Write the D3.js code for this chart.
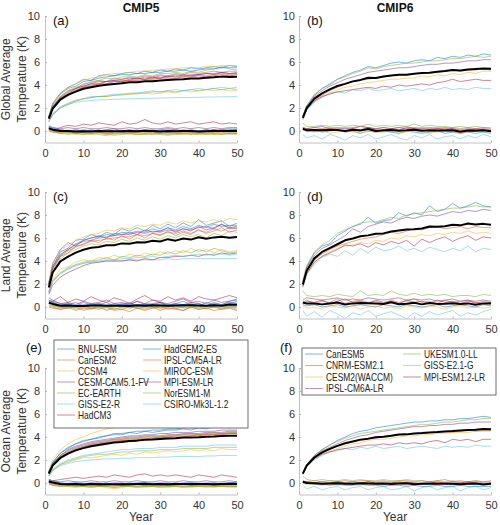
<!DOCTYPE html>
<html><head><meta charset="utf-8">
<script src="https://cdn.jsdelivr.net/npm/d3@7"></script>
<style>body{margin:0;background:#fff} svg{display:block} text{font-family:"Liberation Sans",Arial,Helvetica,sans-serif}</style>
</head><body><svg id="chart" width="500" height="525"></svg>
<script>
// ---------------- data ----------------
const years = [1,2,4,6,8,10,12,14,16,18,20,22,24,26,28,30,32,34,36,38,40,42,44,46,48,50];
const xTicks = [0,10,20,30,40,50];
const yTicks = [0,2,4,6,8,10];
const columnTitles = ["CMIP5","CMIP6"];
const rowLabels = [["Global Average","Temperature (K)"],["Land Average","Temperature (K)"],["Ocean Average","Temperature (K)"]];
const panelLetters = ["(a)","(b)","(c)","(d)","(e)","(f)"];
const xLabel = "Year";
const cmip5Models = ["BNU-ESM","CanESM2","CCSM4","CESM-CAM5.1-FV","EC-EARTH","GISS-E2-R","HadCM3","HadGEM2-ES","IPSL-CM5A-LR","MIROC-ESM","MPI-ESM-LR","NorESM1-M","CSIRO-Mk3L-1.2"];
const cmip6Models = ["CanESM5","CNRM-ESM2.1","CESM2(WACCM)","IPSL-CM6A-LR","UKESM1.0-LL","GISS-E2.1-G","MPI-ESM1.2-LR"];
const palette = ["#0072BD","#D95319","#EDB120","#7E2F8E","#77AC30","#4DBEEE","#A2142F"];

const globalCmip5Warm = [
[1.2,2.4,3.3,3.8,4.1,4.5,4.4,4.8,4.9,4.8,5.0,5.1,5.0,5.2,5.1,5.3,5.2,5.4,5.3,5.5,5.4,5.5,5.6,5.5,5.7,5.6],
[1.2,2.2,3.0,3.5,3.7,4.1,4.2,4.4,4.3,4.6,4.5,4.7,4.6,4.8,4.7,4.9,4.8,5.0,4.9,5.1,5.0,5.1,5.2,5.1,5.2,5.2],
[0.8,1.5,2.1,2.4,2.6,2.8,2.9,3.0,3.0,3.1,3.1,3.2,3.2,3.3,3.2,3.3,3.4,3.3,3.5,3.4,3.5,3.6,3.5,3.6,3.5,3.5],
[1.2,2.1,2.9,3.2,3.7,3.9,4.1,4.1,4.3,4.4,4.3,4.5,4.6,4.5,4.7,4.6,4.8,4.7,4.9,4.8,4.9,5.0,4.9,5.1,5.0,5.0],
[1.1,2.0,3.0,3.5,3.8,4.0,4.3,4.4,4.6,4.5,4.7,4.8,4.7,4.9,4.8,5.0,5.0,5.1,5.0,5.2,5.1,5.3,5.4,5.6,5.4,5.3],
[0.8,1.4,2.0,2.3,2.5,2.6,2.65,2.7,2.72,2.75,2.78,2.8,2.82,2.83,2.85,2.87,2.88,2.9,2.9,2.92,2.93,2.95,2.96,2.97,2.98,3.0],
[1.1,2.0,2.8,3.2,3.5,3.8,3.9,4.1,4.1,4.3,4.3,4.4,4.4,4.5,4.5,4.6,4.6,4.6,4.7,4.7,4.8,4.7,4.8,4.9,4.8,4.9],
[1.3,2.3,3.2,3.7,3.9,4.3,4.4,4.6,4.7,4.8,4.9,4.9,5.0,5.0,5.1,5.1,5.2,5.2,5.3,5.2,5.3,5.4,5.4,5.5,5.5,5.5],
[1.1,2.0,2.8,3.3,3.6,3.8,4.0,4.1,4.3,4.3,4.4,4.4,4.6,4.5,4.6,4.6,4.7,4.8,4.7,4.8,4.9,4.8,4.9,5.0,4.9,5.0],
[1.3,2.3,3.3,3.8,4.1,4.4,4.6,4.7,4.9,5.0,5.0,5.1,5.2,5.2,5.3,5.3,5.4,5.4,5.5,5.5,5.5,5.6,5.6,5.7,5.7,5.7],
[1.2,2.1,2.9,3.4,3.7,3.9,4.1,4.3,4.3,4.4,4.5,4.6,4.5,4.7,4.6,4.8,4.7,4.9,4.8,4.9,4.9,5.0,5.0,5.1,5.0,5.1],
[0.8,1.4,2.0,2.3,2.6,2.8,2.9,3.0,3.0,3.1,3.2,3.2,3.3,3.3,3.4,3.4,3.5,3.4,3.5,3.6,3.5,3.6,3.7,3.6,3.7,3.6],
[0.9,1.5,2.1,2.4,2.7,2.8,3.0,3.0,3.1,3.2,3.2,3.3,3.3,3.4,3.5,3.4,3.5,3.6,3.5,3.6,3.7,3.6,3.7,3.8,3.7,3.8]];
const globalCmip5Ctrl = [
[0.4,0.3,0.1,0.0,-0.1,0.1,0.0,-0.1,0.1,0.0,0.0,0.1,-0.1,0.0,0.1,0.0,-0.1,0.0,0.1,0.0,-0.1,0.0,0.1,0.0,0.1,0.2],
[0.0,-0.1,-0.2,-0.1,-0.2,-0.1,-0.2,-0.1,-0.3,-0.2,-0.1,-0.2,-0.1,-0.2,-0.3,-0.2,-0.1,-0.2,-0.2,-0.1,-0.2,-0.3,-0.2,-0.1,-0.2,-0.2],
[0.2,0.1,-0.1,-0.2,-0.1,-0.2,-0.3,-0.2,-0.2,-0.1,-0.2,-0.3,-0.2,-0.2,-0.1,-0.2,-0.3,-0.2,-0.1,-0.2,-0.2,-0.3,-0.1,-0.2,-0.2,-0.3],
[0.3,0.2,0.1,0.0,0.1,0.0,0.1,0.0,0.1,0.2,0.0,0.1,0.0,0.1,0.0,0.1,0.2,0.1,0.0,0.1,0.0,0.1,0.0,0.1,0.0,0.1],
[0.1,0.0,-0.2,-0.3,-0.2,-0.3,-0.2,-0.3,-0.4,-0.2,-0.3,-0.2,-0.3,-0.3,-0.2,-0.3,-0.2,-0.3,-0.3,-0.2,-0.3,-0.2,-0.3,-0.2,-0.3,-0.2],
[0.2,0.1,0.0,0.1,0.0,0.1,0.0,0.0,0.1,0.0,0.1,0.0,0.0,0.1,0.0,0.0,0.1,0.0,0.0,0.1,0.0,0.0,0.1,0.0,0.0,0.1],
[0.2,0.1,0.3,0.5,0.4,0.6,0.5,0.7,0.6,0.5,0.8,0.6,0.7,1.0,0.7,0.6,0.8,0.6,0.7,0.8,0.6,0.7,0.8,0.6,0.7,0.6],
[0.3,0.2,0.0,-0.1,0.0,-0.1,0.0,0.1,-0.1,0.0,-0.1,0.0,0.1,-0.1,0.0,0.0,-0.1,0.1,0.0,-0.1,0.0,0.1,0.0,0.1,0.2,0.1],
[0.1,0.0,-0.1,0.0,-0.2,-0.1,0.0,-0.1,-0.2,-0.1,0.0,-0.1,-0.1,0.0,-0.2,-0.1,0.0,-0.1,-0.1,0.0,-0.1,-0.2,-0.1,0.0,-0.1,-0.1],
[0.3,0.1,-0.1,-0.2,-0.3,-0.2,-0.3,-0.2,-0.3,-0.4,-0.3,-0.2,-0.3,-0.3,-0.2,-0.3,-0.4,-0.3,-0.2,-0.3,-0.3,-0.2,-0.3,-0.3,-0.2,-0.3],
[0.4,0.3,0.2,0.3,0.2,0.3,0.2,0.2,0.3,0.2,0.2,0.3,0.2,0.3,0.2,0.2,0.3,0.2,0.3,0.2,0.3,0.2,0.3,0.2,0.3,0.3],
[0.0,-0.1,-0.2,-0.1,-0.2,-0.3,-0.2,-0.1,-0.2,-0.3,-0.2,-0.2,-0.3,-0.2,-0.1,-0.2,-0.3,-0.2,-0.2,-0.3,-0.2,-0.1,-0.2,-0.3,-0.2,-0.2],
[0.5,0.3,0.1,0.0,0.1,0.0,-0.1,0.0,0.1,0.0,-0.1,0.0,0.0,0.1,0.0,-0.1,0.0,0.1,0.0,-0.1,0.0,0.0,0.1,0.0,-0.1,0.0]];

const landCmip5Warm = [
[2.0,3.5,4.8,5.1,5.8,5.9,6.3,6.1,6.5,6.3,6.8,6.6,6.9,6.6,7.1,6.8,7.2,6.9,7.3,7.0,7.6,7.1,7.3,7.5,7.0,7.3],
[1.9,3.4,4.4,4.7,5.3,5.4,5.8,5.6,6.0,5.8,6.2,5.9,6.3,6.0,6.4,6.2,6.6,6.2,6.5,6.3,6.7,6.4,6.6,6.9,6.5,6.7],
[1.3,2.4,3.3,3.5,3.9,4.1,4.0,4.3,4.2,4.5,4.3,4.6,4.4,4.7,4.5,4.8,4.6,4.9,4.7,5.1,4.8,5.0,4.7,5.0,4.8,4.9],
[2.1,3.8,5.0,5.6,5.3,5.8,6.0,6.2,6.0,6.4,6.3,6.5,6.3,6.7,6.5,6.6,6.9,6.5,6.8,6.6,7.0,6.7,6.9,7.2,6.8,6.9],
[1.8,3.2,4.2,4.7,5.0,5.3,5.5,5.4,5.7,5.6,5.9,5.7,6.0,5.8,6.1,5.9,6.2,6.0,6.3,6.1,6.3,6.0,6.4,6.2,6.6,6.5],
[1.2,2.2,2.9,3.3,3.6,3.8,3.9,3.9,4.0,4.0,4.0,4.1,4.1,4.1,4.1,4.1,4.2,4.1,4.2,4.2,4.2,4.2,4.2,4.2,4.2,4.2],
[1.1,1.9,2.6,3.0,3.3,3.6,3.8,3.9,4.0,4.0,4.0,4.1,4.0,4.2,4.1,4.3,4.3,4.4,4.4,4.5,4.4,4.6,4.5,4.7,4.6,4.7],
[2.0,3.6,4.6,5.0,5.5,5.8,6.0,6.1,6.3,6.2,6.5,6.4,6.6,6.5,6.8,6.6,6.9,6.7,7.0,6.8,7.1,6.9,7.2,7.0,7.1,7.1],
[1.9,3.3,4.4,4.9,5.2,5.5,5.7,5.8,5.9,6.0,6.1,6.1,6.3,6.2,6.4,6.3,6.5,6.4,6.6,6.4,6.7,6.5,6.8,6.6,6.9,6.8],
[2.2,3.8,4.9,5.4,5.8,6.1,6.3,6.4,6.7,6.6,6.9,6.8,7.1,7.0,7.2,7.1,7.4,7.2,7.5,7.3,7.5,7.4,7.6,7.4,7.7,7.6],
[2.0,3.4,4.5,5.0,5.4,5.7,5.8,6.0,6.1,6.2,6.3,6.3,6.5,6.4,6.6,6.5,6.7,6.6,6.8,6.7,6.9,7.0,6.8,7.2,6.9,7.0],
[1.3,2.3,3.0,3.4,3.7,3.9,4.0,4.1,4.3,4.1,4.4,4.3,4.5,4.4,4.6,4.5,4.8,4.6,4.9,4.7,5.0,4.8,5.1,4.9,4.7,4.8],
[1.3,2.2,2.9,3.3,3.6,3.8,3.9,4.0,4.1,4.1,4.2,4.2,4.3,4.3,4.4,4.3,4.4,4.5,4.4,4.5,4.6,4.5,4.6,4.6,4.5,4.6]];
const landCmip5Ctrl = [
[0.5,0.4,0.2,0.3,0.1,0.4,0.2,0.3,0.1,0.3,0.2,0.4,0.1,0.3,0.2,0.4,0.2,0.3,0.5,0.2,0.3,0.1,0.4,0.2,0.5,0.6],
[0.0,-0.1,-0.2,0.0,-0.3,-0.1,-0.2,0.0,-0.3,-0.1,-0.2,-0.4,-0.1,-0.2,0.0,-0.3,-0.1,-0.2,-0.3,0.0,-0.2,-0.1,-0.3,-0.2,0.0,-0.2],
[0.3,0.2,0.0,-0.1,0.1,-0.2,0.0,-0.1,0.1,-0.2,0.0,-0.1,0.1,-0.1,0.0,-0.2,0.1,-0.1,0.0,-0.1,0.1,-0.2,0.0,-0.1,0.1,0.0],
[0.8,0.6,0.3,0.2,0.4,0.1,0.3,0.2,0.4,0.1,0.3,0.2,0.5,0.2,0.3,0.4,0.1,0.3,0.2,0.4,0.3,0.1,0.3,0.2,0.4,0.3],
[0.2,0.1,-0.1,0.1,-0.2,0.0,-0.1,0.1,-0.2,0.0,0.1,-0.1,0.0,0.1,-0.1,0.0,0.2,-0.1,0.0,0.1,-0.1,0.1,0.0,-0.1,0.1,0.0],
[0.4,0.3,0.1,0.2,0.1,0.0,0.1,0.2,0.0,0.1,0.2,0.1,0.0,0.1,0.2,0.1,0.0,0.1,0.2,0.1,0.0,0.1,0.2,0.1,0.0,0.1],
[0.3,0.5,0.9,0.4,0.7,0.5,0.9,0.6,0.4,0.8,0.6,0.3,0.7,1.0,0.6,0.5,0.9,0.6,0.8,0.5,0.9,0.7,0.6,0.8,1.0,0.8],
[0.6,0.4,0.1,0.3,0.0,0.2,0.1,0.3,0.0,0.2,0.1,0.3,0.1,0.2,0.0,0.3,0.1,0.2,0.0,0.3,0.1,0.4,0.2,0.1,0.3,0.5],
[0.1,0.0,-0.2,-0.1,0.0,-0.3,-0.1,-0.2,0.0,-0.3,-0.2,0.0,-0.1,-0.3,-0.1,0.0,-0.2,-0.1,-0.3,0.0,-0.2,-0.1,0.0,-0.2,-0.1,-0.3],
[0.4,0.2,0.0,0.1,-0.1,0.0,0.1,-0.1,0.0,0.2,-0.1,0.0,0.1,-0.1,0.0,0.1,-0.1,0.0,0.2,0.0,-0.1,0.1,0.0,-0.1,0.1,0.0],
[0.6,0.5,0.3,0.4,0.2,0.5,0.3,0.4,0.6,0.3,0.4,0.2,0.5,0.3,0.6,0.4,0.3,0.5,0.7,0.4,0.5,0.3,0.6,0.4,0.5,0.7],
[0.3,0.1,0.0,-0.1,0.0,0.1,-0.1,0.0,0.1,-0.2,0.0,0.1,-0.1,0.0,0.2,-0.1,0.0,0.1,-0.1,0.0,0.1,-0.1,0.0,0.1,-0.1,0.0],
[0.5,0.3,0.1,0.0,0.2,0.0,0.1,0.0,0.2,0.1,0.0,0.2,0.1,0.0,0.1,0.2,0.0,0.1,0.0,0.2,0.1,0.0,0.1,0.2,0.0,0.1]];

const oceanCmip5Warm = [
[1.0,1.8,2.6,3.0,3.4,3.6,3.8,3.9,4.1,4.2,4.2,4.4,4.3,4.5,4.4,4.5,4.6,4.6,4.7,4.6,4.8,4.7,4.9,5.1,4.8,4.9],
[0.9,1.6,2.3,2.7,3.0,3.2,3.4,3.5,3.6,3.7,3.8,3.9,3.9,4.0,4.0,4.0,4.1,4.1,4.2,4.2,4.2,4.3,4.3,4.3,4.4,4.4],
[0.6,1.1,1.6,1.8,2.0,2.2,2.2,2.3,2.4,2.5,2.4,2.6,2.5,2.7,2.6,2.7,2.8,2.7,2.8,2.9,2.8,2.9,2.8,3.0,2.9,2.9],
[0.9,1.7,2.4,2.8,3.1,3.3,3.5,3.6,3.7,3.8,3.9,4.0,4.0,4.1,4.1,4.1,4.2,4.2,4.3,4.3,4.3,4.4,4.4,4.4,4.5,4.5],
[0.9,1.6,2.3,2.7,3.0,3.2,3.4,3.5,3.6,3.8,3.8,3.9,3.9,4.0,4.1,4.0,4.1,4.2,4.2,4.3,4.2,4.3,4.4,4.3,4.4,4.4],
[0.6,1.1,1.5,1.7,1.85,1.95,2.0,2.05,2.1,2.1,2.15,2.15,2.2,2.2,2.2,2.25,2.25,2.3,2.3,2.3,2.3,2.35,2.35,2.4,2.4,2.4],
[0.8,1.5,2.2,2.6,2.9,3.1,3.3,3.4,3.5,3.6,3.7,3.7,3.8,3.8,3.9,3.9,4.0,4.0,4.0,4.1,4.1,4.2,4.2,4.2,4.3,4.3],
[1.0,1.8,2.6,3.1,3.4,3.7,3.8,4.0,4.1,4.3,4.3,4.4,4.5,4.5,4.6,4.6,4.7,4.7,4.8,4.8,4.8,4.9,4.9,5.0,5.0,5.0],
[0.8,1.5,2.2,2.6,2.9,3.1,3.3,3.4,3.5,3.6,3.7,3.8,3.8,3.9,3.9,4.0,4.0,4.1,4.1,4.1,4.2,4.2,4.2,4.3,4.3,4.3],
[1.1,2.0,2.9,3.4,3.8,4.0,4.3,4.5,4.7,4.8,4.9,5.0,5.1,5.2,5.3,5.4,5.3,5.3,5.4,5.3,5.3,5.4,5.3,5.2,5.3,5.3],
[0.9,1.7,2.4,2.9,3.2,3.4,3.6,3.7,3.8,3.9,4.0,4.1,4.1,4.2,4.2,4.3,4.3,4.4,4.4,4.4,4.5,4.5,4.5,4.6,4.6,4.6],
[0.6,1.1,1.6,1.9,2.1,2.3,2.4,2.5,2.5,2.6,2.7,2.7,2.8,2.8,2.8,2.9,2.9,2.9,3.0,3.0,3.0,3.0,3.1,3.1,3.1,3.1],
[0.7,1.2,1.7,2.0,2.2,2.4,2.5,2.6,2.7,2.8,2.9,2.9,3.0,3.0,3.0,3.1,3.1,3.1,3.2,3.2,3.2,3.2,3.3,3.3,3.3,3.3]];
const oceanCmip5Ctrl = [
[0.3,0.2,0.0,-0.1,0.0,-0.1,0.0,-0.1,0.0,-0.2,-0.1,0.0,-0.1,0.0,-0.1,-0.2,-0.1,0.0,-0.1,0.0,-0.1,-0.2,0.0,-0.1,0.0,0.1],
[-0.1,-0.2,-0.3,-0.2,-0.3,-0.2,-0.3,-0.3,-0.2,-0.3,-0.2,-0.3,-0.3,-0.2,-0.3,-0.3,-0.2,-0.3,-0.3,-0.2,-0.3,-0.3,-0.2,-0.3,-0.3,-0.3],
[0.1,0.0,-0.2,-0.3,-0.2,-0.3,-0.4,-0.3,-0.3,-0.4,-0.3,-0.3,-0.4,-0.3,-0.3,-0.4,-0.3,-0.3,-0.4,-0.3,-0.3,-0.2,-0.3,-0.3,-0.2,-0.3],
[0.2,0.1,0.0,-0.1,0.0,-0.1,0.0,0.0,-0.1,0.0,0.0,-0.1,0.0,0.0,-0.1,0.0,0.0,-0.1,0.0,0.0,-0.1,0.0,0.0,-0.1,0.0,0.0],
[0.0,-0.1,-0.2,-0.3,-0.2,-0.3,-0.3,-0.2,-0.3,-0.4,-0.3,-0.2,-0.3,-0.3,-0.2,-0.3,-0.3,-0.2,-0.3,-0.3,-0.2,-0.3,-0.3,-0.2,-0.3,-0.3],
[0.2,0.1,0.0,0.0,0.1,0.0,0.0,-0.1,0.0,0.0,-0.1,0.0,0.0,0.1,0.0,0.0,-0.1,0.0,0.0,0.1,0.0,0.0,-0.1,0.0,0.0,0.0],
[0.1,0.2,0.3,0.4,0.5,0.4,0.5,0.6,0.5,0.7,0.6,0.5,0.7,0.8,0.6,0.7,0.6,0.7,0.6,0.5,0.7,0.6,0.5,0.7,0.6,0.5],
[0.2,0.1,-0.1,-0.2,-0.1,-0.2,-0.1,-0.2,-0.1,-0.1,-0.2,-0.1,-0.1,-0.2,-0.1,-0.1,-0.2,-0.1,-0.1,-0.2,-0.1,-0.1,-0.2,-0.1,-0.1,-0.1],
[0.0,-0.1,-0.2,-0.1,-0.2,-0.2,-0.1,-0.2,-0.2,-0.1,-0.2,-0.2,-0.1,-0.2,-0.2,-0.1,-0.2,-0.2,-0.1,-0.2,-0.2,-0.1,-0.2,-0.2,-0.1,-0.2],
[0.2,0.0,-0.2,-0.3,-0.4,-0.3,-0.4,-0.3,-0.4,-0.5,-0.4,-0.3,-0.4,-0.4,-0.3,-0.4,-0.4,-0.3,-0.4,-0.4,-0.3,-0.4,-0.4,-0.3,-0.4,-0.4],
[0.3,0.2,0.1,0.2,0.1,0.1,0.2,0.1,0.1,0.2,0.1,0.1,0.2,0.1,0.1,0.2,0.1,0.1,0.2,0.1,0.1,0.2,0.1,0.1,0.2,0.1],
[-0.1,-0.2,-0.3,-0.2,-0.3,-0.3,-0.2,-0.3,-0.3,-0.2,-0.3,-0.3,-0.2,-0.3,-0.3,-0.2,-0.3,-0.3,-0.2,-0.3,-0.3,-0.2,-0.3,-0.3,-0.2,-0.3],
[0.3,0.2,0.0,-0.1,0.0,-0.1,-0.1,0.0,-0.1,-0.1,0.0,-0.1,-0.1,0.0,-0.1,-0.1,0.0,-0.1,-0.1,0.0,-0.1,-0.1,0.0,-0.1,-0.1,0.0]];

const globalCmip6Warm = [
[1.3,2.2,3.1,3.7,4.1,4.5,4.8,5.1,5.3,5.6,5.5,5.7,5.9,6.0,5.9,6.1,6.2,6.1,6.4,6.3,6.5,6.4,6.6,6.5,6.7,6.6],
[1.0,1.9,2.7,3.1,3.5,3.8,4.1,4.3,4.4,4.5,4.6,4.7,4.8,4.9,4.9,5.0,5.0,5.1,5.1,5.2,5.3,5.2,5.3,5.3,5.4,5.3],
[1.0,1.8,2.6,3.0,3.3,3.6,3.8,3.9,4.1,4.2,4.3,4.4,4.5,4.5,4.6,4.6,4.8,4.7,4.9,4.8,5.0,4.9,5.1,5.0,5.2,5.2],
[1.2,2.1,3.0,3.5,3.9,4.2,4.5,4.7,4.9,5.1,5.2,5.3,5.4,5.5,5.5,5.6,5.7,5.8,5.8,5.9,5.9,6.0,6.1,6.1,6.2,6.2],
[1.3,2.2,3.2,3.7,4.0,4.5,4.7,5.0,5.2,5.5,5.4,5.6,5.7,5.8,5.9,5.9,6.0,6.1,6.1,6.2,6.3,6.3,6.4,6.5,6.4,6.5],
[1.1,1.8,2.5,2.9,3.3,3.4,3.3,3.6,3.5,3.7,3.5,3.6,3.7,3.5,3.6,3.7,3.5,3.7,3.6,3.8,3.6,3.7,3.6,3.8,3.7,3.7],
[1.1,1.9,2.6,3.0,3.2,3.4,3.5,3.6,3.7,3.8,3.7,3.9,3.8,4.0,3.9,4.0,4.1,4.0,4.2,4.3,4.5,4.3,4.4,4.5,4.4,4.4]];
const globalCmip6Ctrl = [
[0.1,0.0,0.1,-0.1,0.0,0.1,-0.1,0.0,-0.2,0.0,-0.1,0.0,-0.1,-0.2,0.0,-0.1,-0.2,-0.1,0.0,-0.2,-0.1,-0.2,-0.1,-0.2,-0.1,-0.2],
[0.3,0.2,0.3,0.2,0.3,0.2,0.3,0.2,0.4,0.3,0.2,0.3,0.2,0.3,0.4,0.2,0.3,0.2,0.3,0.2,0.3,0.2,0.3,0.2,0.3,0.2],
[0.2,0.0,-0.1,0.0,-0.2,-0.1,0.0,-0.1,-0.2,0.0,-0.1,-0.1,0.0,-0.2,-0.1,0.0,-0.1,-0.2,-0.1,0.0,-0.1,-0.2,-0.1,0.0,-0.1,0.0],
[0.3,0.2,0.3,0.4,0.2,0.3,0.2,0.3,0.4,0.3,0.2,0.3,0.2,0.3,0.2,0.3,0.2,0.3,0.2,0.3,0.2,0.1,0.2,0.1,0.2,0.1],
[0.7,0.4,0.4,0.5,0.4,0.5,0.4,0.5,0.4,0.6,0.4,0.5,0.4,0.5,0.4,0.6,0.4,0.5,0.4,0.4,0.3,0.4,0.3,0.4,0.3,0.3],
[-0.3,-0.6,-0.4,-0.7,-0.3,-0.5,-0.8,-0.4,-0.6,-0.3,-0.7,-0.5,-0.3,-0.6,-0.8,-0.4,-0.6,-0.3,-0.7,-0.5,-0.4,-0.7,-0.4,-0.6,-0.3,-0.5],
[0.1,0.2,0.0,0.1,0.2,0.1,0.0,0.2,0.1,0.3,0.1,0.0,0.2,0.1,0.3,0.2,0.1,0.0,0.2,0.1,0.2,0.0,0.1,0.2,0.1,0.0]];

const landCmip6Warm = [
[2.2,3.5,4.7,5.3,5.5,6.2,6.6,7.0,7.2,7.8,7.3,7.5,7.6,8.2,7.9,8.2,8.0,8.8,8.3,8.5,9.0,8.6,8.8,9.1,8.8,8.7],
[1.8,3.0,4.1,4.6,5.0,5.3,5.5,5.7,5.9,6.0,6.1,6.3,6.5,6.4,6.6,6.8,6.7,6.9,7.0,6.8,6.9,7.0,6.8,7.0,6.9,6.9],
[1.8,2.9,3.9,4.4,4.8,5.1,5.3,5.4,5.6,5.5,5.8,5.7,6.0,5.9,6.2,6.1,6.3,6.2,6.4,6.3,6.5,6.4,6.6,6.4,6.5,6.4],
[2.1,3.4,4.5,5.1,5.4,5.8,6.2,6.8,6.5,7.0,7.2,7.4,7.3,7.6,7.8,7.7,7.9,8.0,7.9,8.1,8.3,8.2,8.4,8.3,8.5,8.4],
[2.3,3.6,4.8,5.4,5.8,6.4,6.7,7.0,7.3,7.4,7.4,7.6,7.8,7.7,8.0,8.1,8.2,8.3,8.4,8.5,8.6,8.6,8.7,8.8,8.7,8.7],
[1.7,2.8,3.7,4.3,4.6,4.4,4.9,4.5,5.1,4.7,5.2,4.9,5.0,5.3,4.9,5.1,4.8,5.2,5.0,4.8,5.1,4.9,5.3,4.8,5.1,5.0],
[1.8,2.9,3.9,4.4,4.7,5.0,5.4,5.3,5.5,5.2,5.6,5.4,5.7,5.5,5.8,5.3,5.9,5.6,5.9,6.1,5.7,6.0,6.2,5.8,6.1,6.0]];
const landCmip6Ctrl = [
[0.2,0.1,0.2,0.0,0.1,0.2,0.0,0.1,0.2,0.1,0.0,0.2,0.1,0.0,0.2,0.1,0.0,0.1,0.2,0.0,0.1,0.2,0.1,0.0,0.2,0.1],
[0.4,0.6,0.3,0.5,0.4,0.7,0.3,0.5,0.6,0.4,0.5,0.3,0.6,0.4,0.5,0.7,0.4,0.5,0.3,0.6,0.4,0.5,0.6,0.3,0.5,0.4],
[0.1,-0.1,0.0,-0.2,0.1,0.0,-0.1,0.1,-0.2,0.0,0.1,-0.1,0.0,-0.2,0.1,0.0,-0.1,0.1,0.0,-0.2,0.0,0.1,-0.1,0.0,-0.1,0.0],
[0.6,0.8,0.7,0.6,0.7,0.8,0.6,0.7,0.6,0.8,0.7,0.6,0.7,0.8,0.6,0.7,0.6,0.7,0.5,0.6,0.7,0.5,0.6,0.5,0.6,0.5],
[1.4,1.0,0.9,1.0,0.9,1.1,1.0,0.9,1.4,1.0,1.1,1.0,1.4,1.1,1.0,1.2,1.0,1.1,1.0,1.1,0.9,1.0,1.0,0.9,1.1,1.0],
[-0.3,-0.8,-0.4,-0.9,-0.3,-0.6,-1.0,-0.5,-0.7,-0.3,-0.8,-0.6,-0.4,-0.7,-1.0,-0.5,-0.8,-0.4,-0.7,-0.5,-0.3,-0.8,-0.5,-0.7,-0.4,-0.2],
[0.3,0.5,0.4,0.6,0.3,0.5,0.7,0.4,0.5,0.3,0.6,0.4,0.5,0.3,0.6,0.4,0.5,0.3,0.6,0.4,0.5,0.3,0.5,0.4,0.3,0.4]];

const oceanCmip6Warm = [
[0.9,1.6,2.4,2.9,3.3,3.7,4.0,4.3,4.5,4.6,4.8,4.9,5.0,5.1,5.2,5.3,5.3,5.4,5.4,5.5,5.5,5.6,5.6,5.7,5.8,5.7],
[0.8,1.5,2.2,2.6,2.9,3.2,3.4,3.6,3.7,3.8,3.9,4.0,4.1,4.2,4.2,4.3,4.3,4.4,4.4,4.5,4.4,4.5,4.6,4.5,4.6,4.6],
[0.7,1.4,2.1,2.5,2.8,3.0,3.2,3.4,3.5,3.7,3.8,3.8,3.9,4.0,4.1,4.1,4.2,4.2,4.3,4.3,4.4,4.4,4.4,4.5,4.5,4.5],
[0.8,1.6,2.3,2.8,3.1,3.4,3.7,3.9,4.1,4.2,4.4,4.5,4.6,4.7,4.8,4.9,4.9,5.0,5.0,5.1,5.1,5.2,5.2,5.3,5.3,5.3],
[0.9,1.6,2.4,2.9,3.3,3.6,3.9,4.1,4.3,4.4,4.5,4.6,4.7,4.8,4.9,5.0,5.1,5.1,5.2,5.3,5.3,5.4,5.5,5.5,5.6,5.6],
[0.8,1.4,2.0,2.4,2.7,2.8,3.0,2.9,3.1,3.0,3.2,3.0,3.1,3.2,3.0,3.1,3.2,3.1,3.0,3.2,3.1,3.2,3.1,3.3,3.2,3.2],
[0.8,1.5,2.1,2.5,2.7,2.9,3.0,3.1,3.2,3.3,3.3,3.4,3.3,3.5,3.4,3.5,3.4,3.6,3.7,3.5,3.8,3.7,3.8,3.6,3.8,3.8]];
const oceanCmip6Ctrl = [
[0.1,0.0,-0.1,-0.1,-0.2,-0.1,-0.2,-0.2,-0.1,-0.2,-0.2,-0.3,-0.2,-0.2,-0.3,-0.2,-0.3,-0.3,-0.2,-0.3,-0.3,-0.2,-0.3,-0.3,-0.3,-0.3],
[0.2,0.1,0.2,0.1,0.2,0.1,0.2,0.1,0.2,0.2,0.1,0.2,0.1,0.2,0.2,0.1,0.2,0.1,0.2,0.3,0.1,0.2,0.1,0.2,0.1,0.2],
[0.0,-0.1,-0.1,-0.2,-0.1,-0.2,-0.1,-0.1,-0.2,-0.1,-0.1,-0.2,-0.1,-0.1,-0.2,-0.1,-0.1,-0.2,-0.1,-0.1,-0.2,-0.1,-0.1,-0.2,-0.1,-0.1],
[0.1,0.1,0.0,0.1,0.0,0.1,0.0,0.1,0.0,0.1,0.0,0.1,0.0,0.0,0.1,0.0,0.0,0.1,0.0,0.0,0.1,0.0,0.0,0.1,0.0,0.0],
[0.6,0.3,0.2,0.3,0.2,0.2,0.3,0.2,0.3,0.2,0.2,0.3,0.2,0.2,0.3,0.2,0.2,0.1,0.2,0.1,0.2,0.1,0.1,0.2,0.1,0.1],
[-0.2,-0.5,-0.3,-0.6,-0.4,-0.3,-0.6,-0.4,-0.3,-0.6,-0.4,-0.3,-0.6,-0.5,-0.3,-0.7,-0.4,-0.3,-0.6,-0.4,-0.3,-0.7,-0.4,-0.3,-0.6,-0.4],
[0.0,0.1,0.0,-0.1,0.0,0.1,0.0,-0.1,0.0,0.1,0.0,-0.1,0.0,0.1,0.0,0.0,-0.1,0.0,0.1,0.0,-0.1,0.0,0.1,0.0,-0.1,0.0]];

// ---------------- drawing ----------------
const svg = d3.select("#chart");
const colX = [{x0:45, x1:237, pad:5}, {x0:299, x1:491, pad:4}];
const rowY = [{top:16, bottom:142.5}, {top:192, bottom:318.5}, {top:368, bottom:494.5}];

const panels = [
  {row:0,col:0,warm:globalCmip5Warm,ctrl:globalCmip5Ctrl},
  {row:0,col:1,warm:globalCmip6Warm,ctrl:globalCmip6Ctrl},
  {row:1,col:0,warm:landCmip5Warm,ctrl:landCmip5Ctrl},
  {row:1,col:1,warm:landCmip6Warm,ctrl:landCmip6Ctrl},
  {row:2,col:0,warm:oceanCmip5Warm,ctrl:oceanCmip5Ctrl},
  {row:2,col:1,warm:oceanCmip6Warm,ctrl:oceanCmip6Ctrl}
];

const meanOf = series => years.map((_, i) => d3.mean(series, s => s[i]));

panels.forEach((p, pi) => {
  const c = colX[p.col], r = rowY[p.row];
  const x = d3.scaleLinear().domain([0, 50]).range([c.x0, c.x1]);
  const y = d3.scaleLinear().domain([-1, 10]).range([r.bottom, r.top]);
  const g = svg.append("g");
  const clipId = "clip" + pi;
  svg.append("clipPath").attr("id", clipId).append("rect")
    .attr("x", c.x0).attr("y", r.top - 2).attr("width", c.x1 - c.x0 + 1).attr("height", r.bottom - r.top + 2);

  const line = d3.line().x((d, i) => x(years[i])).y(d => y(d));
  const plot = g.append("g").attr("clip-path", `url(#${clipId})`);

  [p.ctrl, p.warm].forEach(set => {
    set.forEach((s, i) => {
      plot.append("path").attr("d", line(s)).attr("fill", "none")
        .attr("stroke", palette[i % palette.length]).attr("stroke-width", 0.8)
        .attr("stroke-opacity", 0.65);
    });
  });
  [p.ctrl, p.warm].forEach(set => {
    plot.append("path").attr("d", line(meanOf(set))).attr("fill", "none")
      .attr("stroke", "#000").attr("stroke-width", 2).attr("stroke-linejoin", "round");
  });

  // axes
  const ax = g.append("g").attr("transform", `translate(${c.x0},0)`)
    .call(d3.axisLeft(y).tickValues(yTicks).tickSize(-2).tickSizeOuter(0).tickPadding(c.pad));
  const bx = g.append("g").attr("transform", `translate(0,${r.bottom})`)
    .call(d3.axisBottom(x).tickValues(xTicks).tickSize(-2).tickSizeOuter(0).tickPadding(7));
  [ax, bx].forEach(a => {
    a.select(".domain").attr("stroke", "#b3b3b3").attr("stroke-width", 0.8);
    a.selectAll(".tick line").attr("stroke", "#b3b3b3");
    a.selectAll(".tick text").attr("fill", "#333").attr("font-size", 11)
      .attr("font-family", "'Liberation Sans', Arial, sans-serif");
  });

  // panel letter
  const letterPos = p.row < 2 ? [c.x0 + 8, r.top + 9] : [c.x0 - 19, 352];
  svg.append("text").attr("x", letterPos[0]).attr("y", letterPos[1])
    .attr("font-size", 13).attr("fill", "#111").text(panelLetters[pi]);

  if (p.col === 0) {
    const cy = (r.top + r.bottom) / 2;
    rowLabels[p.row].forEach((t, k) => {
      svg.append("text").attr("transform", `translate(${10 + k * 16},${cy}) rotate(-90)`)
        .attr("text-anchor", "middle").attr("font-size", 12).attr("fill", "#333").text(t);
    });
  }
  if (p.row === 0) {
    svg.append("text").attr("x", (c.x0 + c.x1) / 2).attr("y", 12).attr("text-anchor", "middle")
      .attr("font-size", 12).attr("font-weight", "bold").attr("fill", "#111").text(columnTitles[p.col]);
  }
  if (p.row === 2) {
    svg.append("text").attr("x", (c.x0 + c.x1) / 2).attr("y", 521).attr("text-anchor", "middle")
      .attr("font-size", 12).attr("fill", "#333").text(xLabel);
  }
});

// legends
function legend(names, box, rowsPerCol, colOffsets, rowStep, firstRow) {
  const lg = svg.append("g");
  lg.append("rect").attr("x", box.x).attr("y", box.y).attr("width", box.w).attr("height", box.h)
    .attr("fill", "#fff").attr("stroke", "#333").attr("stroke-width", 0.7);
  names.forEach((n, i) => {
    const col = Math.floor(i / rowsPerCol), row = i % rowsPerCol;
    const yy = firstRow + row * rowStep;
    const lx = box.x + colOffsets[col];
    lg.append("line").attr("x1", lx).attr("x2", lx + 18).attr("y1", yy).attr("y2", yy)
      .attr("stroke", palette[i % palette.length]).attr("stroke-width", 0.8).attr("stroke-opacity", 0.65);
    lg.append("text").attr("transform", `translate(${lx + 21},${yy + 3.5}) scale(0.8,1)`)
      .attr("font-size", 10.5).attr("fill", "#222").text(n);
  });
}
legend(cmip5Models, {x:54, y:340, w:194, h:88}, 7, [3, 89], 11, 349);
legend(cmip6Models, {x:302, y:348, w:194, h:47}, 4, [3, 101], 11.5, 354);
</script></body></html>
